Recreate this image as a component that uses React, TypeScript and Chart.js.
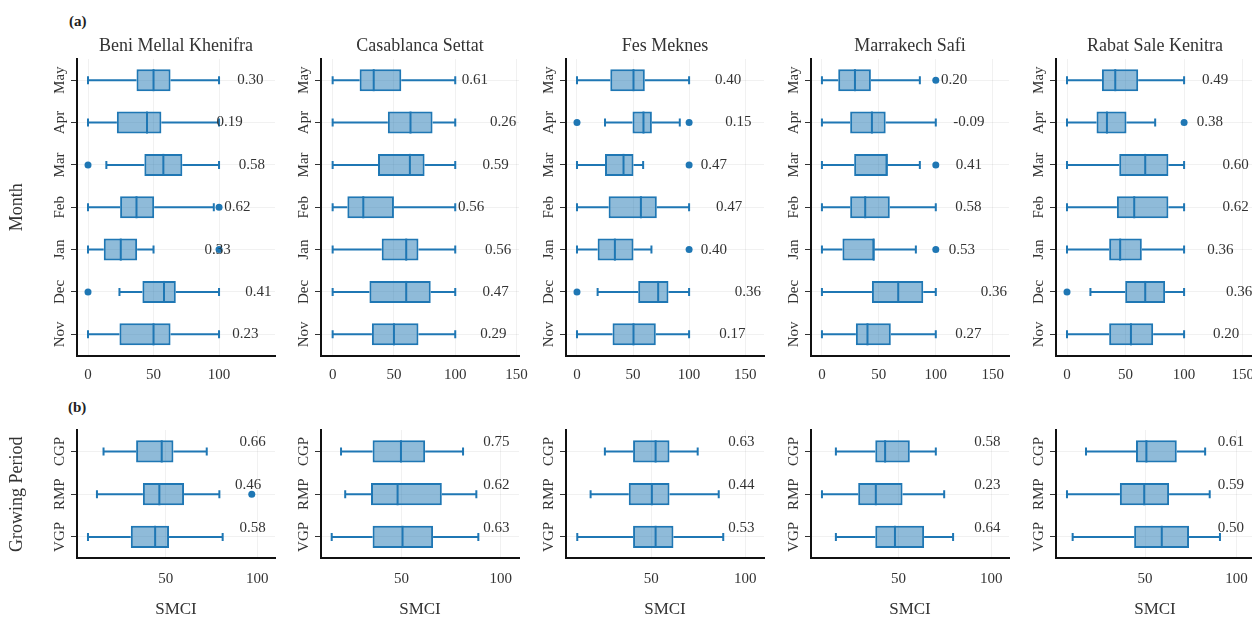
import React, { useEffect, useRef } from "react";
import { Chart, registerables } from "chart.js";

Chart.register(...registerables);

const SERIF = "'Liberation Serif', 'Times New Roman', Times, serif";
const BLUE = "#1f77b4";
const BOX_FILL = "rgba(31,119,180,0.5)";
const TEXT = "#333333";
const GRID = "rgba(0,0,0,0.055)";
const AXIS = "#111111";

Chart.defaults.font.family = SERIF;

const regions = [
  "Beni Mellal Khenifra",
  "Casablanca Settat",
  "Fes Meknes",
  "Marrakech Safi",
  "Rabat Sale Kenitra",
];
const months = ["Nov", "Dec", "Jan", "Feb", "Mar", "Apr", "May"];
const periods = ["VGP", "RMP", "CGP"];

// (a) monthly SMCI box statistics: one row per region, columns Nov..May
const monthLow = [
  [0, 24, 0, 0, 14, 0, 0],
  [0, 0, 0, 0, 0, 0, 0],
  [0, 18.4, 0, 0, 0, 25, 0],
  [0, 0, 0, 0, 0, 0, 0],
  [0, 20, 0, 0, 0, 0, 0],
];
const monthQ1 = [
  [24, 41.5, 12, 24.5, 43, 22, 37],
  [32, 30, 40, 12, 37, 45, 22],
  [31.7, 54.6, 18.4, 28.2, 25, 49.5, 29.7],
  [29.8, 43.9, 18, 24.8, 28.3, 24.8, 14.3],
  [36, 49.7, 36, 42.6, 44.6, 25.2, 29.8],
];
const monthMedian = [
  [50, 58, 25, 37, 57.5, 45, 50],
  [50, 60, 60, 25, 63, 63.5, 33.5],
  [50.4, 72.4, 33.8, 57, 41.5, 59.3, 50.4],
  [40, 67, 45.5, 38, 57, 43.9, 29],
  [54.6, 66.8, 45.4, 57.4, 66.8, 34.1, 41.2],
];
const monthQ3 = [
  [63, 67, 37.5, 50.5, 72, 56, 63],
  [70, 80, 70, 50, 75, 81.5, 56],
  [70.3, 81.6, 50.4, 71.2, 50.4, 66.8, 60.5],
  [60.5, 89, 46, 59.6, 57.5, 56, 43],
  [73.6, 83.8, 63.9, 86.6, 86.6, 50.8, 60.8],
];
const monthHigh = [
  [100, 100, 50, 96, 100, 100, 100],
  [100, 100, 100, 100, 100, 100, 100],
  [100, 100, 66.4, 100, 59, 91.7, 100],
  [100, 100, 82.5, 100, 86, 100, 86],
  [100, 100, 100, 100, 100, 75.3, 100],
];
const monthOutliers: [string, number][][] = [
  [["Dec", 0], ["Jan", 100], ["Feb", 100], ["Mar", 0]],
  [],
  [["Dec", 0], ["Jan", 100], ["Mar", 100], ["Apr", 0], ["Apr", 100]],
  [["Jan", 100], ["Mar", 100], ["May", 100]],
  [["Dec", 0], ["Apr", 100]],
];
const monthCorr = [
  [0.23, 0.41, 0.33, 0.62, 0.58, 0.19, 0.3],
  [0.29, 0.47, 0.56, 0.56, 0.59, 0.26, 0.61],
  [0.17, 0.36, 0.4, 0.47, 0.47, 0.15, 0.4],
  [0.27, 0.36, 0.53, 0.58, 0.41, -0.09, 0.2],
  [0.2, 0.36, 0.36, 0.62, 0.6, 0.38, 0.49],
];
const monthCorrAt = [
  [120, 130, 99, 114, 125, 108, 124],
  [131, 133, 135, 113, 133, 139, 116],
  [138.6, 152.5, 122, 135.6, 122, 144, 134.7],
  [128.6, 151, 123, 128.6, 129, 129, 116],
  [136, 147, 131, 144, 144, 122, 126.4],
];
const monthAxisMin = [-8.4, -9.5, -9.8, -9.6, -9.4];
const monthAxisMax = [142.7, 152, 166.8, 164.3, 159.7];

// (b) growing-period SMCI box statistics: one row per region, columns VGP, RMP, CGP
const periodLow = [
  [7.5, 12.4, 16],
  [14.8, 21.6, 19.5],
  [10.6, 17.7, 25.3],
  [16.3, 8.8, 16.3],
  [10.4, 7.3, 17.7],
];
const periodQ1 = [
  [30.9, 37.5, 33.8],
  [35.4, 34.6, 35.4],
  [40.3, 38, 40.3],
  [37.5, 28.3, 37.5],
  [44, 36.2, 45],
];
const periodMedian = [
  [44.2, 46.5, 47.8],
  [50.5, 48, 49.7],
  [52.3, 50.3, 52.3],
  [48.1, 37.8, 42.8],
  [59.1, 49.5, 50.7],
];
const periodQ3 = [
  [51.8, 60, 54.2],
  [65.9, 70.3, 61.9],
  [61.8, 59.7, 59.7],
  [63.8, 52.2, 56.1],
  [74, 63.1, 67.3],
];
const periodHigh = [
  [81.1, 79.3, 72.4],
  [88.7, 87.7, 81],
  [88.3, 85.9, 74.7],
  [79.4, 74.6, 70.1],
  [90.9, 85.3, 82.8],
];
const periodOutliers: [string, number][][] = [[["RMP", 97]], [], [], [], []];
const periodCorr = [
  [0.58, 0.46, 0.66],
  [0.63, 0.62, 0.75],
  [0.53, 0.44, 0.63],
  [0.64, 0.23, 0.58],
  [0.5, 0.59, 0.61],
];
const periodCorrAt = [
  [97.5, 95, 97.5],
  [97.8, 97.8, 97.8],
  [98, 98, 98],
  [97.8, 97.8, 97.8],
  [96.8, 96.8, 96.8],
];
const periodAxisMin = [1.5, 9.4, 4.6, 2.9, 1.3];
const periodAxisMax = [109.7, 109.2, 110, 109.5, 109.5];

// SMCI axis tick values
const xTicks = [0, 50, 100, 150];

// layout geometry
const PANEL_LEFT = [77, 321, 566, 811, 1056];
const PLOT_W = 198;
const Y_W = 77;
const RIGHT_PAD = 77;

type PanelProps = {
  labels: string[];
  low: number[];
  q1: number[];
  median: number[];
  q3: number[];
  high: number[];
  outliers: [string, number][];
  corr: number[];
  corrAt: number[];
  min: number;
  max: number;
  left: number;
  row: "top" | "bottom";
  title?: string;
  yTitle?: string;
  xTitle?: string;
};

function BoxPanel(p: PanelProps) {
  const ref = useRef<HTMLCanvasElement | null>(null);
  const isTop = p.row === "top";
  const canvasTop = isTop ? 30 : 420;
  const canvasH = isTop ? 360 : 200;
  const canvasW = Y_W + PLOT_W + RIGHT_PAD;

  useEffect(() => {
    if (!ref.current) return;
    const labels = p.labels;
    const corrDy = isTop ? 0 : -9;

    const boxPlugin = {
      id: "boxWhiskers",
      beforeDatasetsDraw(chart: any) {
        const ctx = chart.ctx;
        const xs = chart.scales.x;
        const ys = chart.scales.y;
        ctx.save();
        ctx.strokeStyle = BLUE;
        ctx.lineWidth = 2;
        labels.forEach((_, i) => {
          const y = ys.getPixelForValue(i);
          const xl = xs.getPixelForValue(p.low[i]);
          const x1 = xs.getPixelForValue(p.q1[i]);
          const x3 = xs.getPixelForValue(p.q3[i]);
          const xh = xs.getPixelForValue(p.high[i]);
          const cap = 4;
          ctx.beginPath();
          ctx.moveTo(xl, y);
          ctx.lineTo(x1, y);
          ctx.moveTo(x3, y);
          ctx.lineTo(xh, y);
          ctx.moveTo(xl, y - cap);
          ctx.lineTo(xl, y + cap);
          ctx.moveTo(xh, y - cap);
          ctx.lineTo(xh, y + cap);
          ctx.stroke();
        });
        ctx.restore();
      },
      afterDatasetsDraw(chart: any) {
        const ctx = chart.ctx;
        const xs = chart.scales.x;
        const ys = chart.scales.y;
        const bars = chart.getDatasetMeta(0).data;
        ctx.save();
        ctx.strokeStyle = BLUE;
        ctx.lineWidth = 2;
        labels.forEach((_, i) => {
          const y = ys.getPixelForValue(i);
          const h = bars[i].height / 2;
          const xm = xs.getPixelForValue(p.median[i]);
          ctx.beginPath();
          ctx.moveTo(xm, y - h);
          ctx.lineTo(xm, y + h);
          ctx.stroke();
        });
        ctx.fillStyle = TEXT;
        ctx.font = `15px ${SERIF}`;
        ctx.textAlign = "center";
        ctx.textBaseline = "middle";
        labels.forEach((_, i) => {
          const y = ys.getPixelForValue(i);
          ctx.fillText(p.corr[i].toFixed(2), xs.getPixelForValue(p.corrAt[i]), y + corrDy);
        });
        ctx.restore();
      },
    };

    const chart = new Chart(ref.current, {
      type: "bar",
      data: {
        labels,
        datasets: [
          {
            type: "bar",
            data: labels.map((_, i) => [p.q1[i], p.q3[i]]) as any,
            backgroundColor: BOX_FILL,
            borderColor: BLUE,
            borderWidth: 2,
            borderSkipped: false,
            barPercentage: 0.52,
            categoryPercentage: 1,
          } as any,
          {
            type: "scatter",
            data: p.outliers.map(([lab, v]) => ({ x: v, y: lab })) as any,
            backgroundColor: BLUE,
            borderColor: BLUE,
            pointRadius: 3.5,
            pointBorderWidth: 0,
          } as any,
        ],
      },
      options: {
        indexAxis: "y",
        responsive: false,
        animation: false,
        events: [],
        layout: { padding: { top: isTop ? 0 : 10, right: RIGHT_PAD, left: 0, bottom: 0 } },
        plugins: {
          legend: { display: false },
          tooltip: { enabled: false },
          title: p.title
            ? {
                display: true,
                fullSize: false,
                text: p.title,
                color: TEXT,
                font: { family: SERIF, size: 18, weight: "normal", lineHeight: 1.2 },
                padding: { top: 5.2, bottom: 2.2 },
              }
            : { display: false },
        },
        scales: {
          x: {
            type: "linear",
            min: p.min,
            max: p.max,
            afterBuildTicks: (s: any) => {
              s.ticks = xTicks.filter((v) => v >= p.min && v <= p.max).map((v) => ({ value: v }));
            },
            ticks: {
              color: TEXT,
              font: { family: SERIF, size: 15, lineHeight: 1.2 },
              padding: isTop ? 10.5 : 11.7,
              maxRotation: 0,
            },
            grid: { color: GRID, drawTicks: false },
            border: { display: true, color: AXIS, width: 2 },
            title: p.xTitle
              ? {
                  display: true,
                  text: p.xTitle,
                  color: TEXT,
                  font: { family: SERIF, size: 17, lineHeight: 1.2 },
                  padding: { top: 0, bottom: 0 },
                }
              : { display: false },
            afterFit: (s: any) => {
              s.height = isTop ? 34.5 : 61.7;
            },
          } as any,
          y: {
            type: "category",
            reverse: true,
            offset: true,
            ticks: {
              color: TEXT,
              font: { family: SERIF, size: 15, lineHeight: 1.2 },
              minRotation: 90,
              maxRotation: 90,
              crossAlign: "center",
              padding: isTop ? -3 : -5,
              autoSkip: false,
            },
            grid: { color: GRID, offset: false, tickColor: "#333", tickLength: 6, tickWidth: 1 },
            border: { display: true, color: AXIS, width: 2 },
            title: p.yTitle
              ? {
                  display: true,
                  text: p.yTitle,
                  color: TEXT,
                  font: { family: SERIF, size: 18, lineHeight: 1.2 },
                  padding: { top: 6.5, bottom: 0 },
                }
              : { display: false },
            afterFit: (s: any) => {
              s.width = Y_W;
            },
          } as any,
        },
      } as any,
      plugins: [boxPlugin as any],
    });
    return () => chart.destroy();
  }, []);

  return (
    <canvas
      ref={ref}
      width={canvasW}
      height={canvasH}
      style={{ position: "absolute", left: p.left - Y_W, top: canvasTop, width: canvasW, height: canvasH }}
    />
  );
}

export default function App() {
  useEffect(() => {
    document.body.style.margin = "0";
  }, []);
  const labelStyle: React.CSSProperties = {
    position: "absolute",
    fontFamily: SERIF,
    fontWeight: "bold",
    fontSize: 15,
    lineHeight: "18px",
    color: "#222",
  };
  return (
    <div
      style={{
        position: "absolute",
        left: 0,
        top: 0,
        width: 1252,
        height: 617,
        overflow: "hidden",
        background: "#ffffff",
      }}
    >
      <div style={{ ...labelStyle, left: 69, top: 12 }}>(a)</div>
      <div style={{ ...labelStyle, left: 68, top: 398 }}>(b)</div>
      {regions.map((r, k) => (
        <BoxPanel
          key={"m" + k}
          row="top"
          labels={months}
          low={monthLow[k]}
          q1={monthQ1[k]}
          median={monthMedian[k]}
          q3={monthQ3[k]}
          high={monthHigh[k]}
          outliers={monthOutliers[k]}
          corr={monthCorr[k]}
          corrAt={monthCorrAt[k]}
          min={monthAxisMin[k]}
          max={monthAxisMax[k]}
          left={PANEL_LEFT[k]}
          title={r}
          yTitle={k === 0 ? "Month" : undefined}
        />
      ))}
      {regions.map((r, k) => (
        <BoxPanel
          key={"p" + k}
          row="bottom"
          labels={periods}
          low={periodLow[k]}
          q1={periodQ1[k]}
          median={periodMedian[k]}
          q3={periodQ3[k]}
          high={periodHigh[k]}
          outliers={periodOutliers[k]}
          corr={periodCorr[k]}
          corrAt={periodCorrAt[k]}
          min={periodAxisMin[k]}
          max={periodAxisMax[k]}
          left={PANEL_LEFT[k]}
          yTitle={k === 0 ? "Growing Period" : undefined}
          xTitle="SMCI"
        />
      ))}
    </div>
  );
}
